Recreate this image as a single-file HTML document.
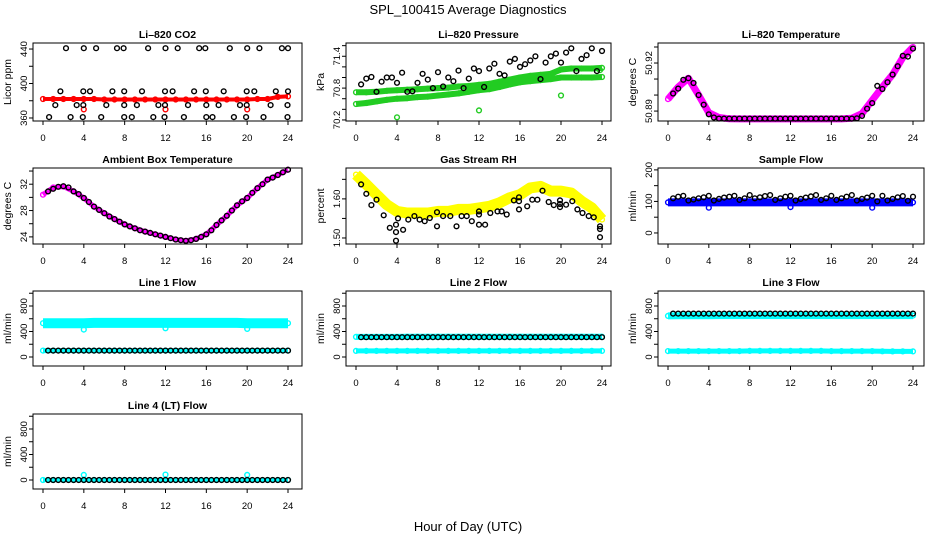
<!DOCTYPE html>
<html><head><meta charset="utf-8"><style>
html,body{margin:0;padding:0;background:#fff}
svg{display:block;font-family:"Liberation Sans",sans-serif}
</style></head><body>
<svg id="c" width="936" height="540" viewBox="0 0 936 540" xmlns="http://www.w3.org/2000/svg">
<rect width="936" height="540" fill="#fff"/>
<text x="468" y="14" font-size="13" text-anchor="middle">SPL_100415  Average Diagnostics</text>
<text x="468" y="531" font-size="13" text-anchor="middle">Hour of Day (UTC)</text>
</svg>
<script>
const T25=[0,1,2,3,4,5,6,7,8,9,10,11,12,13,14,15,16,17,18,19,20,21,22,23,24];
const T48=[0.5,1,1.5,2,2.5,3,3.5,4,4.5,5,5.5,6,6.5,7,7.5,8,8.5,9,9.5,10,10.5,11,11.5,12,12.5,13,13.5,14,14.5,15,15.5,16,16.5,17,17.5,18,18.5,19,19.5,20,20.5,21,21.5,22,22.5,23,23.5,24];
const xTicks=[0,4,8,12,16,20,24];

// CO2
const co2Band=[382,382,382,382,382,382,381.5,381.5,381.5,381.5,381.5,381.5,381.5,381.5,381.5,381.5,381.5,381.5,381.5,381.5,381.5,382,382,384.5,385];
const co2OutT=[4,12,20];
const co2OutV=[370,370,370];
const co2BlackT=[2.25,4.0,5.2,7.25,7.9,10.3,12.0,13.2,15.3,15.9,18.3,20.0,21.2,23.4,24,1.7,3.95,4.6,6.8,7.95,9.7,11.95,12.7,14.8,15.95,17.7,19.95,20.7,22.8,24,1.2,3.3,3.95,6.2,7.95,9.2,11.3,11.95,14.2,16.0,17.2,19.3,19.95,22.3,23.95,0.6,2.7,3.9,5.7,7.95,8.7,10.8,11.9,13.8,16.0,16.6,18.7,19.9,21.6,23.95];
const co2BlackV=[441,441,441,441,441,441,441,441,441,441,441,441,441,441,441,391,391,391,391,391,391,391,391,391,391,391,391,391,391,391,375,375,375,375,375,375,375,375,375,375,375,375,375,375,375,361,361,361,361,361,361,361,361,361,361,361,361,361,361,361];
const co2Ticks=[360,380,400,420,440];
const co2Labels=["360","","400","","440"];

// Pressure
const presUpper=[70.72,70.72,70.73,70.75,70.76,70.77,70.78,70.79,70.8,70.81,70.83,70.84,70.86,70.88,70.92,70.96,71.0,71.03,71.05,71.07,71.15,71.17,71.17,71.17,71.18];
const presLower=[70.5,70.52,70.55,70.58,70.6,70.61,70.63,70.64,70.66,70.68,70.7,70.73,70.76,70.78,70.82,70.87,70.91,70.93,70.95,70.97,71.0,71.0,71.0,71.0,71.01];
const presOutT=[4,12,20,23.8];
const presOutV=[70.25,70.38,70.66,71.14];
const presBlack=[70.87,70.98,71.01,70.73,70.92,71.0,71.0,70.9,71.09,70.73,70.74,70.9,71.07,70.96,70.8,71.1,70.83,71.0,70.93,71.13,70.8,70.98,71.17,71.12,70.82,71.17,71.26,71.07,71.04,71.3,71.35,71.2,71.25,71.32,71.4,70.97,71.28,71.4,71.45,71.28,71.47,71.55,71.12,71.35,71.42,71.55,71.12,71.5];
const presTicks=[70.2,70.4,70.6,70.8,71.0,71.2,71.4,71.6];
const presLabels=["70.2","","","70.8","","","71.4",""];

// Li-820 temperature
const ltBand=[50.8975,50.905,50.9105,50.9,50.889,50.886,50.8852,50.8851,50.8851,50.8851,50.8851,50.8851,50.8851,50.8851,50.8851,50.8851,50.8851,50.8851,50.8855,50.8885,50.8968,50.905,50.9128,50.9234,50.93];
const ltBlack=[50.901,50.904,50.9095,50.9105,50.9075,50.9,50.894,50.888,50.886,50.8853,50.8853,50.8853,50.8853,50.8853,50.8853,50.8853,50.8853,50.8853,50.8853,50.8853,50.8853,50.8853,50.8853,50.8853,50.8853,50.8853,50.8853,50.8853,50.8853,50.8853,50.8853,50.8853,50.8853,50.8853,50.8853,50.8853,50.8855,50.887,50.8915,50.895,50.9057,50.9038,50.908,50.9128,50.918,50.9245,50.924,50.929];
const ltTicks=[50.89,50.90,50.91,50.92,50.93];
const ltLabels=["50.89","","","50.92",""];

// Ambient box temperature
const abBand=[30.4,31.5,31.65,30.9,29.9,28.6,27.6,26.7,25.9,25.3,24.8,24.4,24.0,23.6,23.4,23.7,24.4,25.8,27.2,28.8,29.9,31.4,32.7,33.4,34.2];
const abBlack=[30.9,31.3,31.6,31.7,31.5,30.9,30.5,29.9,29.3,28.6,28.1,27.6,27.1,26.7,26.3,25.9,25.6,25.3,25.0,24.8,24.6,24.4,24.2,24.0,23.8,23.6,23.5,23.4,23.5,23.7,24.0,24.4,25.0,25.8,26.5,27.2,28.0,28.8,29.4,29.9,30.7,31.4,32.0,32.7,33.0,33.4,33.8,34.2];
const abTicks=[24,26,28,30,32,34];
const abLabels=["24","","28","","32",""];

// Gas stream RH
const rhBand=[1.662,1.637,1.611,1.585,1.568,1.564,1.564,1.564,1.568,1.568,1.573,1.573,1.577,1.581,1.59,1.603,1.611,1.628,1.632,1.62,1.62,1.615,1.594,1.577,1.547];
const rhBlackT=[0.5,1,1.5,2,2.7,3.3,3.9,3.9,3.9,4.1,4.6,5.1,5.7,6.2,6.7,7.2,7.9,7.9,8.5,9.2,9.8,10.3,10.8,11.3,12,12,12,12.6,13.1,13.8,14.2,14.7,15.4,15.9,15.9,15.9,16.7,17.2,17.7,18.2,18.8,19.3,19.9,19.9,19.9,20.5,21.1,21.6,22.1,22.7,23.2,23.8,23.8,23.8];
const rhBlackV=[1.637,1.613,1.584,1.598,1.558,1.526,1.515,1.534,1.493,1.55,1.521,1.547,1.556,1.547,1.543,1.551,1.566,1.53,1.556,1.556,1.53,1.556,1.556,1.543,1.534,1.56,1.568,1.534,1.564,1.568,1.568,1.56,1.596,1.604,1.573,1.594,1.581,1.598,1.598,1.621,1.592,1.584,1.596,1.587,1.579,1.585,1.594,1.573,1.564,1.556,1.553,1.53,1.523,1.502];
const rhTicks=[1.50,1.55,1.60,1.65];
const rhLabels=["1.50","","1.60",""];

// Sample flow
const sfBand=[97,97,97,97,97,97,97,97,97,97,97,97,97,97,97,97,97,97,97,97,97,97,97,97,97];
const sfOutT=[4,12,20];
const sfOutV=[80,82,80];
const sfBlack=[110,115,118,103,106,110,113,118,103,108,112,115,118,105,110,120,110,113,117,120,105,110,115,118,103,108,112,116,120,105,110,118,105,110,115,120,103,108,112,118,100,118,103,108,113,117,102,115];
const sfTicks=[0,50,100,150,200];
const sfLabels=["0","","100","","200"];

// Line flows
const flowTicks=[0,200,400,600,800,1000];
const flowLabels=["0","","400","","800",""];
const l1Upper=[530,530,530,530,530,535,535,535,535,535,535,535,535,535,535,535,535,535,535,535,530,530,530,530,530];
const l1Lower=[100,100,100,100,100,100,100,100,100,100,100,100,100,100,100,100,100,100,100,100,100,100,100,100,100];
const l1OutT=[4,12,20];
const l1OutV=[430,450,440];
const l1Black=[100,100,100,100,100,100,100,100,100,100,100,100,100,100,100,100,100,100,100,100,100,100,100,100,100,100,100,100,100,100,100,100,100,100,100,100,100,100,100,100,100,100,100,100,100,100,100,100];
const l2Upper=[315,315,315,315,315,318,318,318,318,318,318,318,318,318,318,318,318,318,318,318,318,318,318,318,318];
const l2Lower=[95,95,95,95,95,95,95,95,95,95,95,95,95,95,95,95,95,95,95,95,95,95,95,95,95];
const l2Black=[310,310,310,310,310,310,310,310,310,310,310,310,310,310,310,310,310,310,310,310,310,310,310,310,310,310,310,310,310,310,310,310,310,310,310,310,310,310,310,310,310,310,310,310,310,310,310,310];
const l3Upper=[645,648,648,648,648,650,650,650,650,650,650,650,650,650,650,650,650,650,650,650,650,650,650,650,650];
const l3Lower=[92,92,92,92,92,92,92,92,95,95,95,95,95,95,95,95,92,92,92,92,92,90,88,88,88];
const l3Black=[680,680,680,680,680,680,680,680,680,680,680,680,680,680,680,680,680,680,680,680,680,680,680,680,680,680,680,680,680,680,680,680,680,680,680,680,680,680,680,680,680,680,680,680,680,680,680,680];
const l4Band=[0,0,0,0,0,0,0,0,0,0,0,0,0,0,0,0,0,0,0,0,0,0,0,0,0];
const l4OutT=[4,12,20];
const l4OutV=[80,85,80];
const l4Black=[0,0,0,0,0,0,0,0,0,0,0,0,0,0,0,0,0,0,0,0,0,0,0,0,0,0,0,0,0,0,0,0,0,0,0,0,0,0,0,0,0,0,0,0,0,0,0,0];

const svg=document.getElementById('c');
const NS='http://www.w3.org/2000/svg';
const COLS=[{l:33,r:302,x0:43,x24:288},{l:346,r:611,x0:356,x24:602},{l:658,r:924,x0:668,x24:913}];
const ROWS=[{t:43,b:121},{t:168,b:244},{t:291,b:366},{t:414,b:489}];
function mk(tag,attrs,parent){const e=document.createElementNS(NS,tag);for(const k in attrs)e.setAttribute(k,attrs[k]);(parent||svg).appendChild(e);return e;}

function panel(p){
  const c=COLS[p.col],r=ROWS[p.row];
  const g=mk('g',{});
  
  
  const X=h=>c.x0+(h/24)*(c.x24-c.x0);
  const Y=v=>r.b-(v-p.ymin)/(p.ymax-p.ymin)*(r.b-r.t);
  const title=mk('text',{x:(c.l+c.r)/2,y:r.t-5,'font-size':10.5,'font-weight':'bold','text-anchor':'middle'},g);
  title.textContent=p.title;
  
  
  const yt=mk('text',{transform:`translate(${c.l-22},${(r.t+r.b)/2}) rotate(-90)`,'font-size':10.5,'text-anchor':'middle'},g);
  yt.textContent=p.ylab;
  
  
  p.series.forEach(s=>{
    const sg=mk('g',{},g);
    
    
    if(s.band){
      let d='';s.t.forEach((h,i)=>{d+=(i?'L':'M')+X(h).toFixed(1)+','+Y(s.v[i]).toFixed(1);});
      const pl=mk('path',{d:d,fill:'none',stroke:s.color,'stroke-width':s.band,'stroke-linecap':'butt','stroke-linejoin':'round'},sg);
      
      
    }
    s.t.forEach((h,i)=>{
      const ci=mk('circle',{cx:X(h).toFixed(1),cy:Y(s.v[i]).toFixed(1),r:2.4,fill:'none',stroke:s.color,'stroke-width':1.4},sg);
      
      
    });
  });
  const box=mk('rect',{x:c.l,y:r.t,width:c.r-c.l,height:r.b-r.t,fill:'none',stroke:'#000','stroke-width':1},g);
  
  
  xTicks.forEach(h=>{
    mk('line',{x1:X(h),x2:X(h),y1:r.b,y2:r.b+4,stroke:'#000'},g);
    const t=mk('text',{x:X(h),y:r.b+20,'font-size':9.5,'text-anchor':'middle'},g);
    t.textContent=String(h);
    
    
  });
  p.ticks.forEach((v,i)=>{
    const y=Y(v);
    mk('line',{x1:c.l-4,x2:c.l,y1:y,y2:y,stroke:'#000'},g);
    if(p.labels[i]){
      const t=mk('text',{transform:`translate(${c.l-6},${y}) rotate(-90)`,'font-size':9.5,'text-anchor':'middle'},g);
      t.textContent=p.labels[i];
      
      
    }
  });
}

panel({name:'co2',title:'Li\u2013820 CO2',ylab:'Licor ppm',col:0,row:0,ymin:356.5,ymax:447,ticks:co2Ticks,labels:co2Labels,series:[
  {id:'band',t:T25,v:co2Band,color:'#ff0000',band:4},
  {id:'outliers',t:co2OutT,v:co2OutV,color:'#ff0000'},
  {id:'hourly',t:co2BlackT,v:co2BlackV,color:'#000'}]});
panel({name:'pressure',title:'Li\u2013820 Pressure',ylab:'kPa',col:1,row:0,ymin:70.18,ymax:71.65,ticks:presTicks,labels:presLabels,series:[
  {id:'band-upper',t:T25,v:presUpper,color:'#22cc22',band:6},
  {id:'band-lower',t:T25,v:presLower,color:'#22cc22',band:6},
  {id:'outliers',t:presOutT,v:presOutV,color:'#22cc22'},
  {id:'hourly',t:T48,v:presBlack,color:'#000'}]});
panel({name:'li-temp',title:'Li\u2013820 Temperature',ylab:'degrees C',col:2,row:0,ymin:50.8838,ymax:50.9325,ticks:ltTicks,labels:ltLabels,series:[
  {id:'band',t:T25,v:ltBand,color:'#ff00ff',band:7},
  {id:'hourly',t:T48,v:ltBlack,color:'#000'}]});
panel({name:'ambient-temp',title:'Ambient Box Temperature',ylab:'degrees C',col:0,row:1,ymin:22.92,ymax:34.46,ticks:abTicks,labels:abLabels,series:[
  {id:'band',t:T25,v:abBand,color:'#ff00ff',band:5},
  {id:'hourly',t:T48,v:abBlack,color:'#000'}]});
panel({name:'rh',title:'Gas Stream RH',ylab:'percent',col:1,row:1,ymin:1.4846,ymax:1.679,ticks:rhTicks,labels:rhLabels,series:[
  {id:'band',t:T25,v:rhBand,color:'#ffff00',band:11},
  {id:'hourly',t:rhBlackT,v:rhBlackV,color:'#000'}]});
panel({name:'sample-flow',title:'Sample Flow',ylab:'ml/min',col:2,row:1,ymin:-35,ymax:206,ticks:sfTicks,labels:sfLabels,series:[
  {id:'band',t:T25,v:sfBand,color:'#0000ff',band:8},
  {id:'outliers',t:sfOutT,v:sfOutV,color:'#0000ff'},
  {id:'hourly',t:T48,v:sfBlack,color:'#000'}]});
panel({name:'line1-flow',title:'Line 1 Flow',ylab:'ml/min',col:0,row:2,ymin:-141,ymax:1035,ticks:flowTicks,labels:flowLabels,series:[
  {id:'band-upper',t:T25,v:l1Upper,color:'#00ffff',band:10},
  {id:'band-lower',t:T25,v:l1Lower,color:'#00ffff',band:5},
  {id:'outliers',t:l1OutT,v:l1OutV,color:'#00ffff'},
  {id:'hourly',t:T48,v:l1Black,color:'#000'}]});
panel({name:'line2-flow',title:'Line 2 Flow',ylab:'ml/min',col:1,row:2,ymin:-141,ymax:1035,ticks:flowTicks,labels:flowLabels,series:[
  {id:'band-upper',t:T25,v:l2Upper,color:'#00ffff',band:6},
  {id:'band-lower',t:T25,v:l2Lower,color:'#00ffff',band:5},
  {id:'hourly',t:T48,v:l2Black,color:'#000'}]});
panel({name:'line3-flow',title:'Line 3 Flow',ylab:'ml/min',col:2,row:2,ymin:-141,ymax:1035,ticks:flowTicks,labels:flowLabels,series:[
  {id:'band-upper',t:T25,v:l3Upper,color:'#00ffff',band:7},
  {id:'band-lower',t:T25,v:l3Lower,color:'#00ffff',band:5},
  {id:'hourly',t:T48,v:l3Black,color:'#000'}]});
panel({name:'line4-flow',title:'Line 4 (LT) Flow',ylab:'ml/min',col:0,row:3,ymin:-141,ymax:1035,ticks:flowTicks,labels:flowLabels,series:[
  {id:'band',t:T25,v:l4Band,color:'#00ffff',band:4},
  {id:'outliers',t:l4OutT,v:l4OutV,color:'#00ffff'},
  {id:'hourly',t:T48,v:l4Black,color:'#000'}]});
</script>
</body></html>
